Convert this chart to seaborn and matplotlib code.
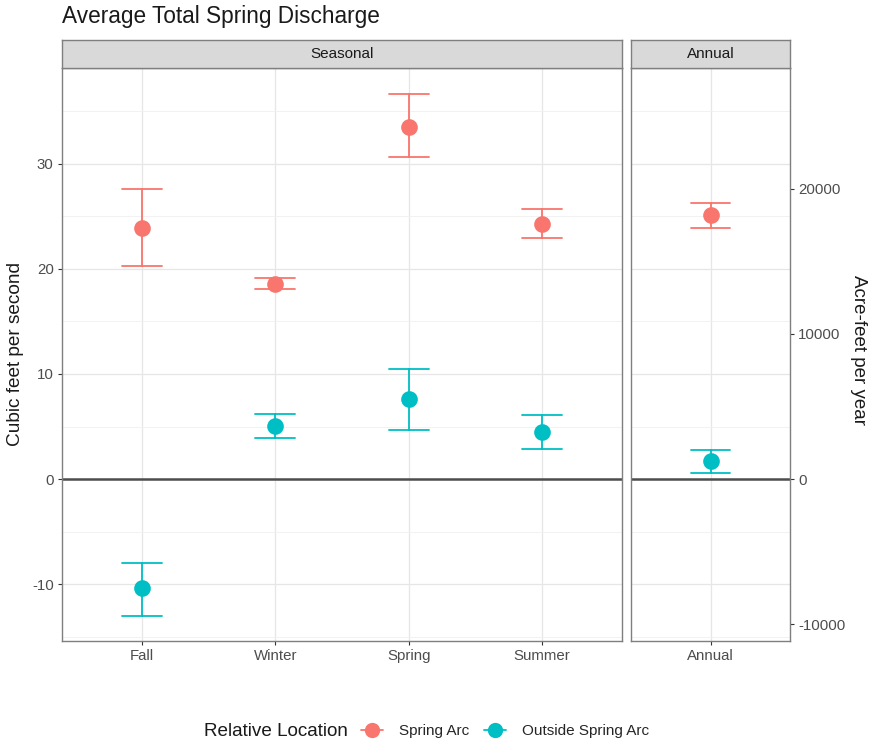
import numpy as np
import pandas as pd
import matplotlib
matplotlib.use("Agg")
import matplotlib.pyplot as plt
from matplotlib.lines import Line2D
import seaborn as sns

# ---- data ----
seasons = ["Fall", "Winter", "Spring", "Summer"]
arc_mean = [23.9, 18.6, 33.5, 24.3]
arc_lo = [20.3, 18.1, 30.6, 22.9]
arc_hi = [27.6, 19.1, 36.6, 25.7]
out_mean = [-10.4, 5.05, 7.6, 4.5]
out_lo = [-13.0, 3.9, 4.7, 2.9]
out_hi = [-8.0, 6.2, 10.5, 6.1]

annual_cat = ["Annual"]
annual_arc = [25.1]
annual_arc_lo = [23.9]
annual_arc_hi = [26.3]
annual_out = [1.7]
annual_out_lo = [0.6]
annual_out_hi = [2.8]

groups = ["Spring Arc", "Outside Spring Arc"]
colors = ["#F8766D", "#00BFC4"]
CFS_TO_AF = 724.0


def long_table(cats, series):
    rows = []
    for grp, (m, lo, hi) in series.items():
        for c, a, b, d in zip(cats, m, lo, hi):
            for v in (b, a, d):
                rows.append({"Period": c, "Relative Location": grp, "value": v})
    return pd.DataFrame(rows)


df_season = long_table(seasons, {
    groups[0]: (arc_mean, arc_lo, arc_hi),
    groups[1]: (out_mean, out_lo, out_hi),
})
df_annual = long_table(annual_cat, {
    groups[0]: (annual_arc, annual_arc_lo, annual_arc_hi),
    groups[1]: (annual_out, annual_out_lo, annual_out_hi),
})

sns.set_theme(style="white")
plt.rcParams["font.family"] = ["Liberation Sans", "DejaVu Sans"]
plt.rcParams["axes.unicode_minus"] = False

W, H = 869, 744
fig = plt.figure(figsize=(W / 100, H / 100), dpi=100)

def fx(px):
    return px / W

def fy(px):
    return 1 - px / H

BORDER = "#7F7F7F"
TICK_FS = 10.8
panel_top, panel_bot = 68, 641
ax1 = fig.add_axes([fx(62), fy(panel_bot), fx(622 - 62), (panel_bot - panel_top) / H])
ax2 = fig.add_axes([fx(631), fy(panel_bot), fx(790 - 631), (panel_bot - panel_top) / H], sharey=ax1)

palette = dict(zip(groups, colors))
for ax, d, cats in ((ax1, df_season, seasons), (ax2, df_annual, annual_cat)):
    ax.axhline(0, color="#4D4D4D", lw=1.8, zorder=1.5)
    sns.pointplot(
        data=d, x="Period", y="value", hue="Relative Location",
        order=cats, hue_order=groups, palette=palette,
        estimator=np.median, errorbar=lambda v: (v.min(), v.max()),
        dodge=False, linestyle="none", marker="o", markersize=12,
        markeredgewidth=0, capsize=0.3, err_kws={"linewidth": 1.3},
        legend=False, ax=ax,
    )
    ax.set_xlim(-0.6, len(cats) - 0.4)
    ax.set_xlabel("")
    ax.set_ylabel("")
    ax.set_facecolor("white")
    ax.set_yticks([-10, 0, 10, 20, 30])
    ax.set_yticks([-15, -5, 5, 15, 25, 35], minor=True)
    ax.grid(True, which="major", color="#E6E6E6", lw=0.9)
    ax.grid(True, which="minor", axis="y", color="#F0F0F0", lw=0.6)
    ax.set_axisbelow(True)
    for s in ax.spines.values():
        s.set_color(BORDER)
        s.set_linewidth(1.0)
        s.set_visible(True)
    ax.tick_params(axis="x", which="major", length=3, width=0.8, color="#333333",
                   labelsize=TICK_FS, labelcolor="#4D4D4D", pad=3, bottom=True)
    ax.tick_params(axis="y", which="major", length=3, width=0.8, color="#333333",
                   labelsize=TICK_FS, labelcolor="#4D4D4D", pad=3, left=True)
    ax.tick_params(axis="y", which="minor", length=0)

ax1.set_ylim(-15.4, 39.1)
ax2.tick_params(axis="y", which="both", left=False, labelleft=False)

sec = ax2.secondary_yaxis("right", functions=(lambda y: y * CFS_TO_AF, lambda y: y / CFS_TO_AF))
sec.set_yticks([-10000, 0, 10000, 20000])
sec.tick_params(length=3, width=0.8, color="#333333", labelsize=TICK_FS, labelcolor="#4D4D4D", pad=3)
sec.spines["right"].set_visible(False)

# facet strips
for left, right, label in ((62, 622, "Seasonal"), (631, 790, "Annual")):
    sax = fig.add_axes([fx(left), fy(68), fx(right - left), 28 / H])
    sax.set_facecolor("#D9D9D9")
    sax.set_xticks([])
    sax.set_yticks([])
    for s in sax.spines.values():
        s.set_color(BORDER)
        s.set_linewidth(1.0)
    sax.text(0.5, 0.5, label, ha="center", va="center", fontsize=11, color="#1A1A1A",
             transform=sax.transAxes)

fig.text(fx(62), fy(17), "Average Total Spring Discharge", ha="left", va="center",
         fontsize=16.3, color="#1A1A1A")
fig.text(fx(16), fy(354), "Cubic feet per second", rotation=90, ha="center", va="center",
         fontsize=13.7, color="#1A1A1A")
fig.text(fx(858), fy(350), "Acre-feet per year", rotation=270, ha="center", va="center",
         fontsize=13.5, color="#1A1A1A")

# legend
fig.text(fx(204), fy(731), "Relative Location", ha="left", va="center", fontsize=13.6,
         color="#1A1A1A")
handles = [Line2D([0], [0], color=c, marker="o", markersize=11, markeredgewidth=0, lw=1.3)
           for c in colors]
fig.legend(handles, groups, loc="center left", bbox_to_anchor=(fx(361), fy(731)),
           ncol=2, frameon=False, fontsize=11, handlelength=1.45, handletextpad=1.05,
           columnspacing=0.95, borderpad=0, borderaxespad=0)

fig.savefig("out.png", dpi=100, facecolor="white")
